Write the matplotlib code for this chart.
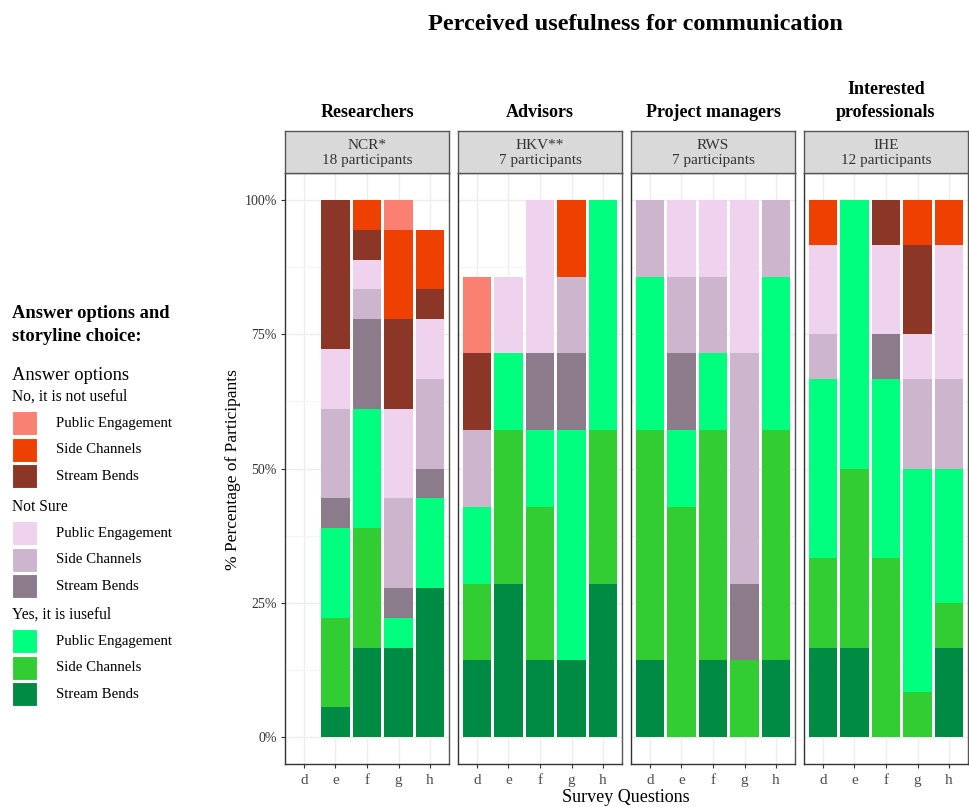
import numpy as np
import matplotlib
matplotlib.use('Agg')
import matplotlib.pyplot as plt
from matplotlib.patches import Rectangle

plt.rcParams['font.family'] = ['Liberation Serif', 'DejaVu Serif']

W, H = 970, 807

QUESTIONS = ['d', 'e', 'f', 'g', 'h']
GROUPS = ['Researchers', 'Advisors', 'Project managers', 'Interested\nprofessionals']
STRIPS = ['NCR*\n18 participants', 'HKV**\n7 participants',
          'RWS\n7 participants', 'IHE\n12 participants']
N_PART = [18, 7, 7, 12]

# stacking order, bottom to top
LEVELS = ['Yes SB', 'Yes SC', 'Yes PE', 'NS SB', 'NS SC', 'NS PE',
          'No SB', 'No SC', 'No PE']
COLORS = ['#008B45', '#32CD32', '#00FF7F', '#8B7B8B', '#CDB5CD', '#EED2EE',
          '#8B3626', '#EE4000', '#FA8072']

# participant counts, rows follow LEVELS, columns follow QUESTIONS
researchers = [[0, 1, 3, 3, 5],
               [0, 3, 4, 0, 0],
               [0, 3, 4, 1, 3],
               [0, 1, 3, 1, 1],
               [0, 3, 1, 3, 3],
               [0, 2, 1, 3, 2],
               [0, 5, 1, 3, 1],
               [0, 0, 1, 3, 2],
               [0, 0, 0, 1, 0]]
advisors = [[1, 2, 1, 1, 2],
            [1, 2, 2, 0, 2],
            [1, 1, 1, 3, 3],
            [0, 0, 1, 1, 0],
            [1, 0, 0, 1, 0],
            [0, 1, 2, 0, 0],
            [1, 0, 0, 0, 0],
            [0, 0, 0, 1, 0],
            [1, 0, 0, 0, 0]]
managers = [[1, 0, 1, 0, 1],
            [3, 3, 3, 1, 3],
            [2, 1, 1, 0, 2],
            [0, 1, 0, 1, 0],
            [1, 1, 1, 3, 1],
            [0, 1, 1, 2, 0],
            [0, 0, 0, 0, 0],
            [0, 0, 0, 0, 0],
            [0, 0, 0, 0, 0]]
professionals = [[2, 2, 0, 0, 2],
                 [2, 4, 4, 1, 1],
                 [4, 6, 4, 5, 3],
                 [0, 0, 1, 0, 0],
                 [1, 0, 0, 2, 2],
                 [2, 0, 2, 1, 3],
                 [0, 0, 1, 2, 0],
                 [1, 0, 0, 1, 1],
                 [0, 0, 0, 0, 0]]
COUNTS = [researchers, advisors, managers, professionals]

LEG_SECTIONS = ['No, it is not useful', 'Not Sure', 'Yes, it is iuseful']
LEG_ITEMS = ['Public Engagement', 'Side Channels', 'Stream Bends']
LEG_COLORS = [['#FA8072', '#EE4000', '#8B3626'],
              ['#EED2EE', '#CDB5CD', '#8B7B8B'],
              ['#00FF7F', '#32CD32', '#008B45']]


def fx(x):
    return x / W


def fy(y):
    return 1 - y / H


fig = plt.figure(figsize=(W / 100, H / 100), dpi=100)

panel_left = [285, 458, 631, 804]
pw = 164
top, bottom = 173, 764
strip_top = 131
grid_c = '#EDEDED'
frame_c = '#555555'

x = np.arange(len(QUESTIONS))
for i, counts in enumerate(COUNTS):
    ax = fig.add_axes([fx(panel_left[i]), fy(bottom), fx(pw), (bottom - top) / H])
    pct = np.array(counts, dtype=float) / N_PART[i] * 100
    base = np.zeros(len(QUESTIONS))
    for lvl in range(len(LEVELS)):
        vals = pct[lvl]
        mask = vals > 0
        ax.bar(x[mask], vals[mask], bottom=base[mask], width=0.9,
               color=COLORS[lvl], linewidth=0, zorder=3)
        base += vals
    ax.set_xlim(-0.6, 4.6)
    ax.set_ylim(-5, 105)
    ax.set_xticks(x)
    ax.set_xticklabels(QUESTIONS, fontsize=11, color='#4d4d4d')
    ax.set_yticks([0, 25, 50, 75, 100])
    ax.set_yticks([12.5, 37.5, 62.5, 87.5], minor=True)
    ax.grid(True, which='major', color=grid_c, linewidth=1, zorder=0)
    ax.grid(True, which='minor', axis='y', color='#F4F4F4', linewidth=0.8, zorder=0)
    ax.tick_params(axis='x', length=3, color='#333333', pad=4)
    ax.tick_params(axis='y', which='minor', length=0)
    if i == 0:
        ax.set_yticklabels(['0%', '25%', '50%', '75%', '100%'], fontsize=10, color='#333333')
        ax.tick_params(axis='y', length=3, color='#333333', pad=3)
    else:
        ax.set_yticklabels([])
        ax.tick_params(axis='y', length=0)
    for sp in ax.spines.values():
        sp.set_color(frame_c)
        sp.set_linewidth(1)
    ax.spines['left'].set_color('#333333')
    ax.spines['bottom'].set_color('#333333')

    # facet strip
    sax = fig.add_axes([fx(panel_left[i]), fy(top), fx(pw), (top - strip_top) / H])
    sax.set_facecolor('#D9D9D9')
    sax.set_xticks([])
    sax.set_yticks([])
    for sp in sax.spines.values():
        sp.set_color(frame_c)
        sp.set_linewidth(1)
    sax.text(0.5, 0.47, STRIPS[i], ha='center', va='center', fontsize=11,
             color='#333333', linespacing=1.2, transform=sax.transAxes)

    fig.text(fx(panel_left[i] + pw / 2), fy(121), GROUPS[i], ha='center', va='bottom',
             fontsize=13, fontweight='bold', linespacing=1.45)

fig.text(fx(635), fy(25), 'Perceived usefulness for communication', ha='center',
         va='center', fontsize=17.5, fontweight='bold')
fig.text(fx(233), fy(470), '% Percentage of Participants', rotation=90,
         ha='center', va='center', fontsize=12.5)
fig.text(fx(626), fy(797), 'Survey Questions', ha='center', va='center', fontsize=13)

# legend
fig.text(fx(12), fy(325), 'Answer options and\nstoryline choice:', ha='left',
         va='center', fontsize=13.3, fontweight='bold', linespacing=1.4)
fig.text(fx(12), fy(376), 'Answer options', ha='left', va='center', fontsize=13.3)
sec_y = [397, 507, 615]
for s, sec in enumerate(LEG_SECTIONS):
    fig.text(fx(12), fy(sec_y[s]), sec, ha='left', va='center', fontsize=11.2)
    for k, item in enumerate(LEG_ITEMS):
        cy = sec_y[s] + 26 + 26.7 * k
        fig.patches.append(Rectangle((fx(12), fy(cy + 12)), fx(25), 24 / H,
                                     transform=fig.transFigure, facecolor=LEG_COLORS[s][k],
                                     edgecolor='white', linewidth=0.8))
        fig.text(fx(56), fy(cy), item, ha='left', va='center', fontsize=10.7)

fig.savefig('out.png', dpi=100, facecolor='white')
